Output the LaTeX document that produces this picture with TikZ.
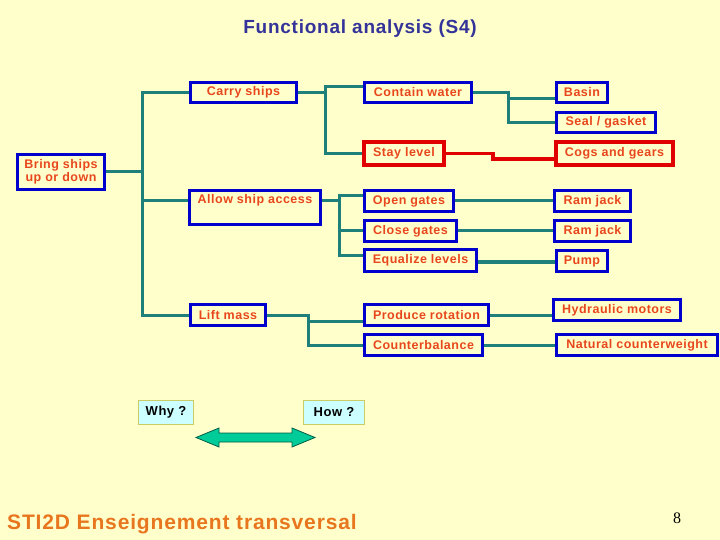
\documentclass[tikz,border=0pt]{standalone}
\usepackage{fontspec}
\setmainfont{Liberation Sans}[LetterSpace=4]
\newfontfamily\numfont{Liberation Serif}
\usepackage{xcolor}
\definecolor{bgyellow}{HTML}{FFFFCC}
\definecolor{boxblue}{HTML}{0000CC}
\definecolor{boxred}{HTML}{E00000}
\definecolor{txtred}{HTML}{E8461C}
\definecolor{linkteal}{HTML}{1F7F7A}
\definecolor{titleblue}{HTML}{333399}
\definecolor{footorange}{HTML}{E8761E}
\definecolor{whyfill}{HTML}{CCFFFF}
\definecolor{whyline}{HTML}{CCCC66}
\definecolor{arrowgreen}{HTML}{00CC99}

\begin{document}
\begin{tikzpicture}[x=1bp,y=-1bp,
  func/.style={draw=boxblue,line width=3bp,text=txtred,font=\bfseries\fontsize{12.5bp}{13bp}\selectfont,inner sep=1bp,minimum height=21bp,align=center},
  redfunc/.style={func,draw=boxred,line width=4bp,minimum height=23bp},
  link/.style={draw=linkteal,line width=3bp},
  redlink/.style={draw=boxred,line width=3.5bp},
  ask/.style={fill=whyfill,draw=whyline,line width=1bp,font=\bfseries\fontsize{13bp}{13bp}\selectfont,minimum width=55bp,minimum height=24bp,inner sep=1bp}]
\fill[bgyellow] (0,0) rectangle (720,540);
\useasboundingbox (0,0) rectangle (720,540);
\node[font=\bfseries\fontsize{19bp}{19bp}\selectfont,text=titleblue] (title) at (360,29) {Functional analysis (S4)};
\node[func,minimum width=87bp,minimum height=35bp] (bring) at (61,172) {Bring ships\\up or down};
\node[func,minimum width=106bp,minimum height=20bp] (carry) at (243.5,92.5) {Carry ships};
\node[func,minimum width=131bp,minimum height=34bp] (access) at (255,207.5) {Allow ship access\\\strut};
\node[func,minimum width=75bp] (lift) at (228,315) {Lift mass};
\node[func,minimum width=107bp,minimum height=20bp] (contain) at (418,92.5) {Contain water};
\node[redfunc,minimum width=80bp] (stay) at (404,153.5) {Stay level};
\node[func,minimum width=89bp] (open) at (409,201) {Open gates};
\node[func,minimum width=92bp] (close) at (410.5,231) {Close gates};
\node[func,minimum width=112bp,minimum height=22bp] (equal) at (420.5,260.5) {Equalize levels};
\node[func,minimum width=124bp] (rot) at (426.5,315) {Produce rotation};
\node[func,minimum width=118bp] (counter) at (423.5,345) {Counterbalance};
\node[func,minimum width=51bp,minimum height=20bp] (basin) at (582,92.5) {Basin};
\node[func,minimum width=99bp,minimum height=20bp] (seal) at (606,122.5) {Seal / gasket};
\node[redfunc,minimum width=117bp] (cogs) at (614.5,153.5) {Cogs and gears};
\node[func,minimum width=76bp] (ram1) at (592.5,201) {Ram jack};
\node[func,minimum width=76bp] (ram2) at (592.5,231) {Ram jack};
\node[func,minimum width=51bp] (pump) at (582,261) {Pump};
\node[func,minimum width=127bp] (motors) at (617,310) {Hydraulic motors};
\node[func,minimum width=161bp] (natural) at (637,345) {Natural counterweight};
\coordinate (trunkA) at (142,0);
\coordinate (trunkB) at (325,0);
\coordinate (trunkC) at (508,0);
\coordinate (trunkD) at (339,0);
\coordinate (trunkE) at (308,0);
\coordinate (stepR) at (493,0);
\coordinate (accin) at ([yshift=6.5bp]access.west);
\coordinate (accout) at ([yshift=6.5bp]access.east);
\coordinate (conin) at ([yshift=5.5bp]contain.west);
\coordinate (basinin) at ([yshift=-6.5bp]basin.west);
\coordinate (cogsin) at ([yshift=-5.5bp]cogs.west);
\coordinate (openin) at ([yshift=5bp]open.west);
\coordinate (eqin) at ([yshift=4.5bp]equal.west);
\coordinate (eqout) at ([yshift=-1.5bp]equal.east);
\coordinate (rotin) at ([yshift=-6bp]rot.west);
\draw[link] (bring.east) -- (bring.east -| trunkA);
\draw[link] (carry.west) -| (trunkA |- lift.west) -- (lift.west);
\draw[link] (accin) -- (accin -| trunkA);
\draw[link] (carry.east) -- (carry.east -| trunkB);
\draw[link] (conin) -| (trunkB |- stay.west) -- (stay.west);
\draw[link] (contain.east) -| (trunkC |- seal.west) -- (seal.west);
\draw[link] (basinin) -- (basinin -| trunkC);
\draw[redlink] (stay.east) -| (stepR |- cogsin) -- (cogsin);
\draw[link] (accout) -- (accout -| trunkD);
\draw[link] (openin) -| (trunkD |- eqin) -- (eqin);
\draw[link] (close.west) -- (close.west -| trunkD);
\draw[link] (open.east) -- (ram1.west);
\draw[link] (close.east) -- (ram2.west);
\draw[link] (eqout) -- (eqout -| pump.west);
\draw[link] (lift.east) -| (trunkE |- counter.west) -- (counter.west);
\draw[link] (rotin) -- (rotin -| trunkE);
\draw[link] (rot.east) -- (rot.east -| motors.west);
\draw[link] (counter.east) -- (natural.west);
\node[ask] (why) at (166,412.5) {Why ?};
\node[ask,minimum width=61bp] (how) at (334,412.5) {How ?};
\filldraw[fill=arrowgreen,draw=arrowgreen!45!black,line width=0.8bp]
	(196,437.5) -- (219,428) -- (219,433) -- (292,433) -- (292,428) --
	(315,437.5) -- (292,447) -- (292,442) -- (219,442) -- (219,447) -- cycle;
\node[anchor=base west,inner sep=0,text=footorange,font=\bfseries\fontsize{21bp}{21bp}\selectfont] (footer) at (7,529) {STI2D Enseignement transversal};
\node[font=\numfont\fontsize{16bp}{16bp}\selectfont] (page) at (677,518.5) {8};
\end{tikzpicture}
\end{document}
